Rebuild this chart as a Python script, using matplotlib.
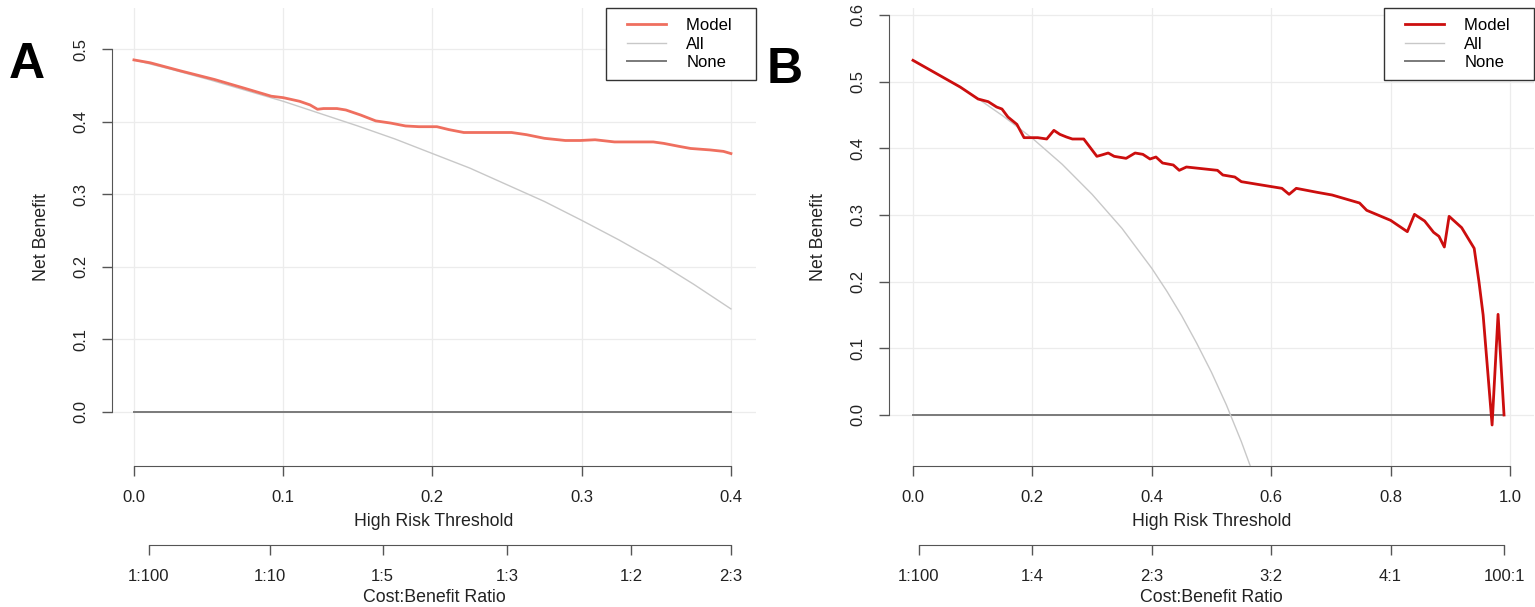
import numpy as np
import matplotlib
matplotlib.use("Agg")
import matplotlib.pyplot as plt
from matplotlib.legend_handler import HandlerLine2D

plt.rcParams['font.family'] = ['Liberation Sans', 'DejaVu Sans']

# ---- panel A data ----
a_model_x = [0.0, 0.011, 0.031, 0.054, 0.074, 0.092, 0.100, 0.111, 0.118, 0.123, 0.127,
             0.136, 0.142, 0.152, 0.162, 0.172, 0.182, 0.191, 0.203, 0.211, 0.221, 0.237,
             0.253, 0.263, 0.275, 0.289, 0.299, 0.309, 0.322, 0.348, 0.355, 0.365, 0.373,
             0.386, 0.395, 0.400]
a_model_y = [0.485, 0.481, 0.470, 0.458, 0.446, 0.435, 0.433, 0.428, 0.423, 0.417, 0.418,
             0.418, 0.416, 0.409, 0.401, 0.398, 0.394, 0.393, 0.393, 0.389, 0.385, 0.385,
             0.385, 0.382, 0.377, 0.374, 0.374, 0.375, 0.372, 0.372, 0.370, 0.366, 0.363,
             0.361, 0.359, 0.356]
a_all_x = [0.0, 0.025, 0.05, 0.075, 0.1, 0.125, 0.15, 0.175, 0.2, 0.225, 0.25, 0.275,
           0.3, 0.325, 0.35, 0.375, 0.4]
a_all_y = [0.485, 0.472, 0.458, 0.443, 0.428, 0.411, 0.394, 0.376, 0.356, 0.336, 0.313,
           0.290, 0.264, 0.237, 0.208, 0.176, 0.142]
a_none_x = [0.0, 0.4]
a_none_y = [0.0, 0.0]
a_ticks = [0.0, 0.1, 0.2, 0.3, 0.4]
a_ratios = [(1, 100), (1, 10), (1, 5), (1, 3), (1, 2), (2, 3)]

# ---- panel B data ----
b_model_x = [0.0, 0.079, 0.109, 0.126, 0.140, 0.149, 0.159, 0.174, 0.186, 0.209, 0.224,
             0.236, 0.246, 0.257, 0.267, 0.286, 0.308, 0.316, 0.327, 0.337, 0.357, 0.372,
             0.385, 0.397, 0.407, 0.418, 0.436, 0.446, 0.458, 0.510, 0.519, 0.539, 0.550,
             0.577, 0.618, 0.630, 0.642, 0.677, 0.702, 0.748, 0.760, 0.800, 0.828, 0.840,
             0.857, 0.872, 0.881, 0.890, 0.898, 0.919, 0.940, 0.948, 0.955, 0.970, 0.980,
             0.990]
b_model_y = [0.532, 0.492, 0.474, 0.470, 0.462, 0.459, 0.447, 0.436, 0.416, 0.416, 0.414,
             0.427, 0.421, 0.417, 0.414, 0.414, 0.388, 0.390, 0.393, 0.388, 0.385, 0.393,
             0.391, 0.384, 0.387, 0.378, 0.375, 0.367, 0.372, 0.367, 0.360, 0.357, 0.350,
             0.346, 0.340, 0.331, 0.340, 0.334, 0.330, 0.318, 0.307, 0.292, 0.275, 0.301,
             0.291, 0.274, 0.268, 0.252, 0.298, 0.281, 0.250, 0.200, 0.150, -0.015, 0.151,
             0.0]
b_all_x = [0.0, 0.05, 0.1, 0.15, 0.2, 0.25, 0.3, 0.35, 0.4, 0.425, 0.45, 0.475, 0.5,
           0.525, 0.55, 0.575]
b_all_y = [0.532, 0.507, 0.480, 0.449, 0.415, 0.376, 0.331, 0.280, 0.220, 0.186, 0.149,
           0.108, 0.064, 0.015, -0.040, -0.101]
b_none_x = [0.0, 0.99]
b_none_y = [0.0, 0.0]
b_ticks = [0.0, 0.2, 0.4, 0.6, 0.8, 1.0]
b_ratios = [(1, 100), (1, 4), (2, 3), (3, 2), (4, 1), (100, 1)]

W, H = 1535, 607
fig = plt.figure(figsize=(W / 100, H / 100), dpi=100)


class PaddedLine(HandlerLine2D):
    # legend line that leaves some empty room on its left, like R's legend box
    def get_xdata(self, legend, xdescent, ydescent, width, height, fontsize):
        xd, xm = super().get_xdata(legend, xdescent, ydescent, width, height, fontsize)
        lpad = 0.65 * fontsize
        xd = [xd[0] + lpad, xd[-1]]
        return xd, xm


def panel(left, right, xlim, ylim, ymax, xt, yt, ratios, mx, my, ax_, ay_, nx, ny,
          color, letter, letter_x, letter_y):
    ax = fig.add_axes([left / W, (H - 466) / H, (right - left) / W, 458 / H])
    ax.set_xlim(*xlim)
    ax.set_ylim(*ylim)
    for t in xt:
        ax.axvline(t, color='#ececec', lw=0.9, zorder=0)
    for t in yt:
        ax.axhline(t, color='#ececec', lw=0.9, zorder=0)
    ax.plot(nx, ny, color='#7a7a7a', lw=1.4, zorder=2, label='None')
    ax.plot(ax_, ay_, color='#c8c8c8', lw=1.0, zorder=3, label='All')
    ax.plot(mx, my, color=color, lw=2.0, zorder=4, label='Model')
    for s in ['top', 'right']:
        ax.spines[s].set_visible(False)
    ax.spines['left'].set_bounds(0, ymax)
    ax.spines['bottom'].set_bounds(xt[0], xt[-1])
    for s in ['left', 'bottom']:
        ax.spines[s].set_color('#555555')
    ax.set_xticks(xt)
    ax.set_xticklabels([f'{t:.1f}' for t in xt])
    ax.set_yticks(yt)
    ax.set_yticklabels([f'{t:.1f}' for t in yt], rotation=90, va='center')
    ax.tick_params(length=7, width=1, color='#555555', labelsize=12, pad=10,
                   labelcolor='#222222')
    ax.set_xlabel('High Risk Threshold', fontsize=12.8, labelpad=6, color='#222222')
    ax.set_ylabel('Net Benefit', fontsize=12.8, labelpad=17, color='#222222')

    h, l = ax.get_legend_handles_labels()
    order = [2, 1, 0]
    leg = ax.legend([h[i] for i in order], [l[i] + '   ' for i in order[:1]] +
                    [l[i] for i in order[1:]], loc='upper right',
                    fancybox=False, edgecolor='#333333', framealpha=1, fontsize=12,
                    borderaxespad=0, labelspacing=0.2, handlelength=3.0,
                    handletextpad=1.2, borderpad=0.62,
                    handler_map={h[i]: PaddedLine() for i in order})
    leg.get_frame().set_linewidth(1.0)

    sec = ax.secondary_xaxis(-79 / 458)
    pos = [a / (a + b) for a, b in ratios]
    sec.set_xticks(pos)
    sec.set_xticklabels([f'{a}:{b}' for a, b in ratios])
    sec.spines['bottom'].set_bounds(pos[0], pos[-1])
    sec.spines['bottom'].set_color('#555555')
    sec.tick_params(length=7, width=1, color='#555555', labelsize=12, pad=10,
                    labelcolor='#222222')
    sec.set_xlabel('Cost:Benefit Ratio', fontsize=12.8, labelpad=4, color='#222222')

    fig.text(letter_x / W, 1 - letter_y / H, letter, fontsize=36, fontweight='bold',
             ha='center', va='center')
    return ax


panel(112, 756, (-0.0147, 0.4168), (-0.0744, 0.5565), 0.5,
      a_ticks, [0.0, 0.1, 0.2, 0.3, 0.4, 0.5], a_ratios,
      a_model_x, a_model_y, a_all_x, a_all_y, a_none_x, a_none_y,
      '#ef6f5f', 'A', 27, 65)
panel(889, 1534, (-0.0402, 1.0402), (-0.0765, 0.6105), 0.6,
      b_ticks, [0.0, 0.1, 0.2, 0.3, 0.4, 0.5, 0.6], b_ratios,
      b_model_x, b_model_y, b_all_x, b_all_y, b_none_x, b_none_y,
      '#cc0e0e', 'B', 785, 70)

fig.savefig('out.png', dpi=100)
